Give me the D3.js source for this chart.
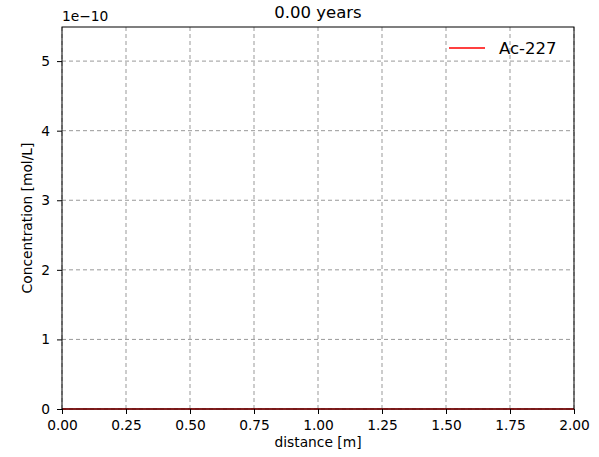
<!DOCTYPE html>
<html>
<head>
<meta charset="utf-8">
<script src="https://cdn.jsdelivr.net/npm/d3@7"></script>
<style>
	body { margin: 0; background: #fff; }
	svg text { font-family: "DejaVu Sans", sans-serif; fill: #000; }
	.grid line { stroke: #999; stroke-dasharray: 4,3; stroke-width: 1; }
</style>
</head>
<body>
<svg id="chart" width="599" height="457"></svg>
<script>
// data: everything sits at zero at t = 0
const distance = [0, 0.25, 0.5, 0.75, 1.0, 1.25, 1.5, 1.75, 2.0];
const concentration = [0, 0, 0, 0, 0, 0, 0, 0, 0];
const xTicks = [0, 0.25, 0.5, 0.75, 1.0, 1.25, 1.5, 1.75, 2.0];
const yTicks = [0, 1, 2, 3, 4, 5];   // in units of 1e-10
const seriesName = "Ac-227";
const titleText = "0.00 years";

const svg = d3.select("#chart");
const margin = { left: 62, right: 25, top: 27, bottom: 48 };
const width = 599 - margin.left - margin.right;
const height = 457 - margin.top - margin.bottom;

const x = d3.scaleLinear().domain([0, 2]).range([0, width]);
const y = d3.scaleLinear().domain([0, 5.49e-10]).range([height, 0]);

const g = svg.append("g").attr("transform", "translate(" + margin.left + "," + margin.top + ")");

// grid
g.append("g").attr("class", "grid")
	.selectAll("line").data(xTicks).join("line")
	.attr("x1", d => x(d)).attr("x2", d => x(d))
	.attr("y1", 0).attr("y2", height);
g.append("g").attr("class", "grid")
	.selectAll("line").data(yTicks).join("line")
	.attr("x1", 0).attr("x2", width)
	.attr("y1", d => y(d * 1e-10)).attr("y2", d => y(d * 1e-10));

// data line
const line = d3.line().x((d, i) => x(distance[i])).y(d => y(d));
g.append("path").datum(concentration)
	.attr("fill", "none").attr("stroke", "#ff0000").attr("stroke-width", 1.5)
	.attr("d", line);

// frame
g.append("rect").attr("width", width).attr("height", height)
	.attr("fill", "none").attr("stroke", "#000").attr("stroke-width", 1);

// axes
const xAxis = g.append("g").attr("transform", "translate(0," + height + ")")
	.call(d3.axisBottom(x).tickValues(xTicks).tickFormat(d3.format(".2f")).tickSizeOuter(0).tickSize(5).tickPadding(6));
const yAxis = g.append("g")
	.call(d3.axisLeft(y).tickValues(yTicks.map(d => d * 1e-10)).tickFormat(d => Math.round(d / 1e-10)).tickSizeOuter(0).tickSize(5).tickPadding(7));
[xAxis, yAxis].forEach(a => {
	a.select(".domain").remove();
	a.selectAll("text").attr("font-size", 13.8).attr("font-family", "DejaVu Sans, sans-serif");
	a.selectAll("line").attr("stroke", "#000");
});

// offset text
svg.append("text").attr("x", margin.left).attr("y", 21)
	.attr("font-size", 13.8).text("1e\u221210");

// title
svg.append("text").attr("x", margin.left + width / 2).attr("y", 18)
	.attr("text-anchor", "middle").attr("font-size", 16.5).text(titleText);

// axis labels
svg.append("text").attr("x", margin.left + width / 2).attr("y", 447)
	.attr("text-anchor", "middle").attr("font-size", 13.8).text("distance [m]");
svg.append("text").attr("transform", "translate(32," + (margin.top + height / 2) + ") rotate(-90)")
	.attr("text-anchor", "middle").attr("font-size", 13.8).text("Concentration [mol/L]");

// legend
const lg = svg.append("g").attr("transform", "translate(449,48)");
lg.append("line").attr("x1", 0).attr("x2", 36).attr("stroke", "#ff0000").attr("stroke-width", 1.5);
lg.append("text").attr("x", 50).attr("y", 6).attr("font-size", 16.5).text(seriesName);
</script>
</body>
</html>
